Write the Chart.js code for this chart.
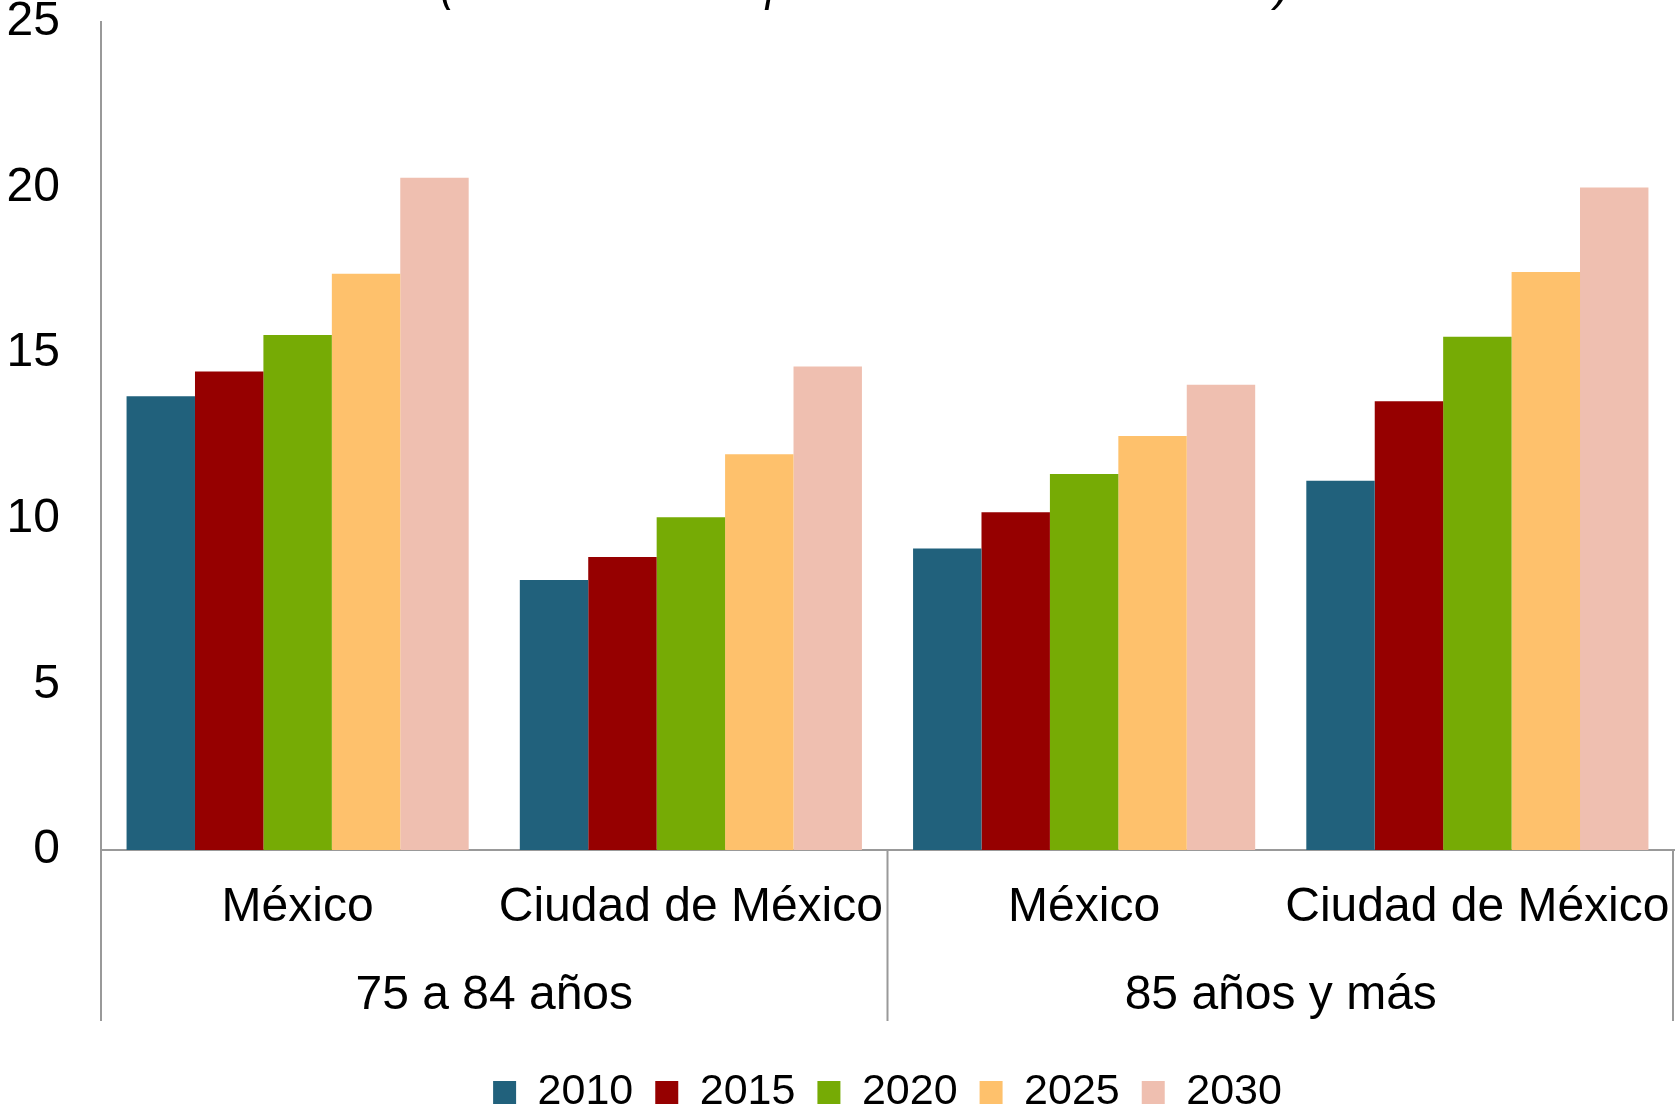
<!DOCTYPE html>
<html>
<head>
<meta charset="utf-8">
<script src="https://cdn.jsdelivr.net/npm/chart.js@4"></script>
<style>
  html, body { margin: 0; padding: 0; background: #fff; overflow: hidden; }
  canvas { display: block; }
</style>
</head>
<body>
<canvas id="chart" width="1675" height="1111"></canvas>
<script>
// ---------- DATA ----------
const categories = ["México", "Ciudad de México", "México", "Ciudad de México"];
const groups = ["75 a 84 años", "85 años y más"];
const years = ["2010", "2015", "2020", "2025", "2030"];
const v2010 = [13.7, 8.15, 9.1, 11.15];
const v2015 = [14.45, 8.85, 10.2, 13.55];
const v2020 = [15.55, 10.05, 11.35, 15.5];
const v2025 = [17.4, 11.95, 12.5, 17.45];
const v2030 = [20.3, 14.6, 14.05, 20.0];
const yTicks = [0, 5, 10, 15, 20, 25];
const titleText = "(Por cada 1 000 personas de 15 a 64 años)";

const colors = ["#21617c", "#960000", "#76ab05", "#fec16c", "#efbfb0"];
const series = [v2010, v2015, v2020, v2025, v2030];

const FONT = "'Liberation Sans', Arial, sans-serif";
const AXIS = "#999999";

// ---------- GROUP LABELS + DIVIDERS + CUT TITLE ----------
const groupPlugin = {
  id: "groupPlugin",
  afterDraw(chart) {
    const ctx = chart.ctx;
    const x = chart.scales.x;
    const per = categories.length / groups.length;
    const top = x.top;
    const bottom = top + 171;
    ctx.save();
    ctx.strokeStyle = AXIS;
    ctx.lineWidth = 2;
    for (let g = 0; g <= groups.length; g++) {
      let px;
      if (g === 0) px = x.left;
      else if (g === groups.length) px = x.right - 1;
      else px = (x.getPixelForValue(g * per - 1) + x.getPixelForValue(g * per)) / 2;
      ctx.beginPath();
      ctx.moveTo(px, top);
      ctx.lineTo(px, bottom);
      ctx.stroke();
    }
    ctx.fillStyle = "#000";
    ctx.font = "48px " + FONT;
    ctx.textAlign = "center";
    ctx.textBaseline = "middle";
    groups.forEach((g, i) => {
      const a = x.getPixelForValue(i * per);
      const b = x.getPixelForValue(i * per + per - 1);
      ctx.fillText(g, (a + b) / 2, top + 146);
    });
    // title sits above the canvas, only its descenders show
    ctx.font = "italic 46px " + FONT;
    ctx.textBaseline = "alphabetic";
    ctx.fillText(titleText, 865, 0, 850);
    ctx.restore();
  }
};

new Chart(document.getElementById("chart"), {
  type: "bar",
  data: {
    labels: categories,
    datasets: years.map((y, i) => ({
      label: y,
      data: series[i],
      backgroundColor: colors[i],
      borderWidth: 0,
      categoryPercentage: 0.87,
      barPercentage: 1.0
    }))
  },
  options: {
    responsive: false,
    animation: false,
    devicePixelRatio: 1,
    layout: { padding: { top: 0, right: 1, bottom: -13, left: 0 } },
    plugins: {
      title: { display: false },
      tooltip: { enabled: false },
      legend: {
        position: "bottom",
        fullSize: false,
        labels: {
          boxWidth: 23,
          boxHeight: 23,
          padding: 22,
          color: "#000",
          font: { family: FONT, size: 43 }
        }
      }
    },
    scales: {
      x: {
        grid: { display: false },
        border: { display: true, color: AXIS, width: 2 },
        ticks: {
          color: "#000",
          font: { family: FONT, size: 48 },
          padding: 21,
          maxRotation: 0,
          autoSkip: false
        },
        afterFit(scale) {
          scale.height = 199;
          scale.paddingLeft = 0;
          scale.paddingRight = 0;
        }
      },
      y: {
        min: 0,
        max: 25,
        grid: { display: false, drawTicks: false },
        border: { display: true, color: AXIS, width: 2 },
        afterBuildTicks(scale) { scale.ticks = yTicks.map(v => ({ value: v })); },
        ticks: {
          color: "#000",
          font: { family: FONT, size: 48 },
          padding: 41
        },
        afterFit(scale) {
          scale.width = 101;
          scale.paddingTop = 22;
          scale.paddingBottom = 0;
        }
      }
    }
  },
  plugins: [groupPlugin]
});
</script>
</body>
</html>
